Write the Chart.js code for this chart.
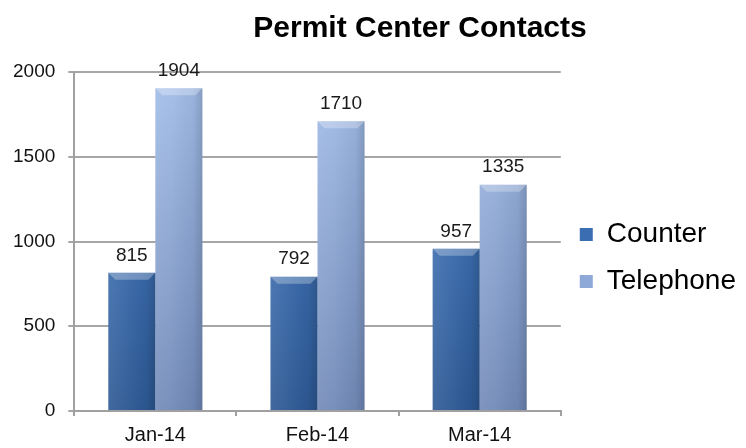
<!DOCTYPE html>
<html>
<head>
<meta charset="utf-8">
<script src="https://cdn.jsdelivr.net/npm/chart.js@4.4.1/dist/chart.umd.min.js"></script>
<style>
  html, body { margin: 0; padding: 0; background: #fff; }
  #wrap { width: 746px; height: 448px; }
</style>
</head>
<body>
<div id="wrap"><canvas id="permitChart"></canvas></div>
<script>
// datos del gráfico
const months = ['Jan-14', 'Feb-14', 'Mar-14'];
const counterValues = [815, 792, 957];
const telephoneValues = [1904, 1710, 1335];
const yTicks = [0, 500, 1000, 1500, 2000];

const chartTitle = 'Permit Center Contacts';

// colores base de cada serie (leyenda) y degradados de las barras
const counterColor = '#3b6db3';
const telephoneColor = '#8ea9d8';
const shades = {
    0: { top: '#4a80c8', bottom: '#2c5893' },
    1: { top: '#a3bee9', bottom: '#7189b8' }
};

// título dibujado a mano para poder desplazarlo a la derecha
const titlePlugin = {
    id: 'offsetTitle',
    afterDraw(chart) {
        const c = chart.ctx;
        c.save();
        c.font = 'bold 30px "Liberation Sans Narrow", "Liberation Sans", Arial, sans-serif';
        c.fillStyle = '#000';
        c.textAlign = 'center';
        c.textBaseline = 'middle';
        c.fillText(chartTitle, 420, 29);
        c.restore();
    }
};

// sube un poco la leyenda
const legendShift = {
    id: 'legendShift',
    afterLayout(chart) {
        if (chart.legend) {
            chart.legend.top -= 5;
            chart.legend.bottom -= 5;
        }
    }
};

// sombreado de las barras (vertical + lateral + bisel superior)
const shadePlugin = {
    id: 'barShade',
    beforeDatasetsDraw(chart) {
        const area = chart.chartArea;
        chart.data.datasets.forEach((ds, i) => {
            const g = chart.ctx.createLinearGradient(0, area.top, 0, area.bottom);
            g.addColorStop(0, shades[i].top);
            g.addColorStop(1, shades[i].bottom);
            chart.getDatasetMeta(i).data.forEach(el => {
                el.options.backgroundColor = g;
            });
        });
    },
    afterDatasetsDraw(chart) {
        const c = chart.ctx;
        chart.data.datasets.forEach((ds, i) => {
            chart.getDatasetMeta(i).data.forEach(el => {
                const left = el.x - el.width / 2;
                const right = el.x + el.width / 2;
                const top = el.y;
                const bottom = el.base;
                c.save();
                // luz a la izquierda, sombra a la derecha
                const h = c.createLinearGradient(left, 0, right, 0);
                h.addColorStop(0, 'rgba(255,255,255,0.10)');
                h.addColorStop(0.35, 'rgba(255,255,255,0.05)');
                h.addColorStop(0.8, 'rgba(0,0,0,0.04)');
                h.addColorStop(1, 'rgba(0,0,0,0.16)');
                c.fillStyle = h;
                c.fillRect(left, top, right - left, bottom - top);
                // bisel superior
                const bev = 7;
                c.beginPath();
                c.moveTo(left, top);
                c.lineTo(right, top);
                c.lineTo(right - bev, top + bev);
                c.lineTo(left + bev, top + bev);
                c.closePath();
                c.fillStyle = 'rgba(255,255,255,0.28)';
                c.fill();
                c.restore();
            });
        });
    }
};

// etiquetas de valor encima de cada barra
const valueLabels = {
    id: 'valueLabels',
    afterDatasetsDraw(chart) {
        const c = chart.ctx;
        c.save();
        c.font = '19px "Liberation Sans", Arial, sans-serif';
        c.fillStyle = '#1a1a1a';
        c.textAlign = 'center';
        c.textBaseline = 'bottom';
        chart.data.datasets.forEach((ds, i) => {
            chart.getDatasetMeta(i).data.forEach((el, j) => {
                c.fillText(String(ds.data[j]), el.x, el.y - 8);
            });
        });
        c.restore();
    }
};

new Chart(document.getElementById('permitChart'), {
    type: 'bar',
    data: {
        labels: months,
        datasets: [{
            label: 'Counter',
            data: counterValues,
            backgroundColor: counterColor,
            borderWidth: 0,
            categoryPercentage: 0.58,
            barPercentage: 1
        }, {
            label: 'Telephone',
            data: telephoneValues,
            backgroundColor: telephoneColor,
            borderWidth: 0,
            categoryPercentage: 0.58,
            barPercentage: 1
        }]
    },
    options: {
        responsive: true,
        maintainAspectRatio: false,
        animation: false,
        layout: {
            padding: { top: 72, left: 0, right: 0, bottom: -6 }
        },
        scales: {
            x: {
                grid: {
                    drawOnChartArea: false,
                    drawTicks: true,
                    tickLength: 5,
                    color: '#a0a0a0',
                    lineWidth: 2
                },
                border: { color: '#a0a0a0', width: 2 },
                ticks: {
                    color: '#111',
                    padding: 9,
                    font: { family: '"Liberation Sans", Arial, sans-serif', size: 20, lineHeight: 1 }
                }
            },
            y: {
                min: 0,
                max: 2000,
                afterBuildTicks(scale) {
                    scale.ticks = yTicks.map(v => ({ value: v }));
                },
                grid: {
                    color: '#a6a6a6',
                    lineWidth: 2,
                    tickLength: 6
                },
                border: { color: '#a0a0a0', width: 2 },
                ticks: {
                    color: '#111',
                    padding: 13,
                    callback: v => String(v),
                    font: { family: '"Liberation Sans", Arial, sans-serif', size: 19 }
                }
            }
        },
        plugins: {
            title: { display: false },
            tooltip: { enabled: false },
            legend: {
                position: 'right',
                labels: {
                    boxWidth: 13,
                    boxHeight: 13,
                    padding: 19,
                    color: '#000',
                    font: { family: '"Liberation Sans", Arial, sans-serif', size: 28 }
                }
            }
        }
    },
    plugins: [legendShift, shadePlugin, valueLabels, titlePlugin]
});
</script>
</body>
</html>
